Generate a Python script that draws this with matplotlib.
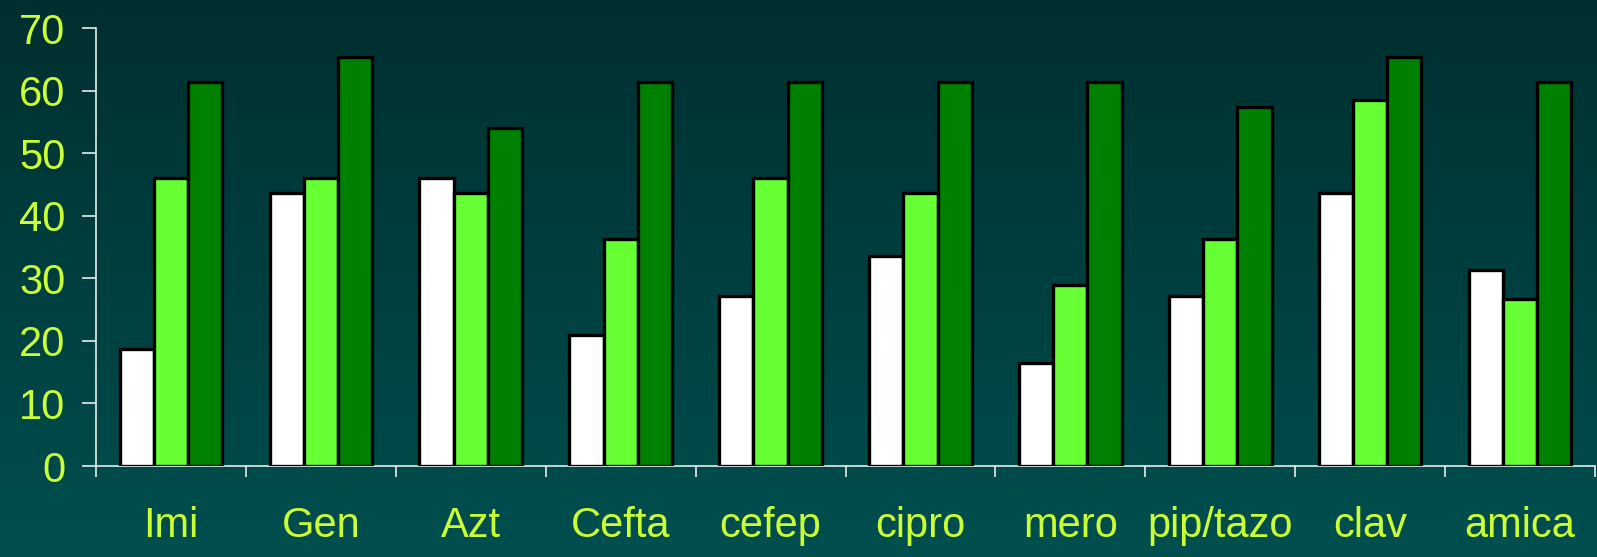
import numpy as np
import matplotlib
matplotlib.use("Agg")
import matplotlib.pyplot as plt
from matplotlib.colors import LinearSegmentedColormap

categories = ["Imi", "Gen", "Azt", "Cefta", "cefep", "cipro", "mero", "pip/tazo", "clav", "amica"]
series_white = [18.7, 43.7, 46.0, 20.9, 27.2, 33.6, 16.5, 27.2, 43.7, 31.3]
series_light = [46.0, 46.0, 43.7, 36.3, 46.0, 43.7, 29.0, 36.3, 58.5, 26.7]
series_dark = [61.4, 65.4, 54.0, 61.4, 61.4, 61.4, 61.4, 57.4, 65.4, 61.4]
y_ticks = [0, 10, 20, 30, 40, 50, 60, 70]

W, H = 1597, 557
fig = plt.figure(figsize=(W / 100, H / 100), dpi=100)

# vertical teal gradient behind everything
bg = fig.add_axes([0, 0, 1, 1], zorder=0)
grad = LinearSegmentedColormap.from_list("teal", ["#002f2f", "#004f4f"])
bg.imshow(np.linspace(0, 1, 256).reshape(-1, 1), aspect="auto", cmap=grad,
          extent=[0, 1, 0, 1], origin="upper")
bg.set_axis_off()

left, right = 96 / W, 1595 / W
bottom, top = (H - 466) / H, (H - 28) / H
ax = fig.add_axes([left, bottom, right - left, top - bottom], zorder=1)
ax.patch.set_alpha(0)

x = np.arange(len(categories))
bw = 0.228
label_color = "#ccff33"
for off, vals, col in [(-bw, series_white, "#ffffff"),
                       (0.0, series_light, "#66ff33"),
                       (bw, series_dark, "#008000")]:
    ax.bar(x + off, vals, width=bw, color=col, edgecolor="black",
           linewidth=2.4, zorder=3)

ax.set_xlim(-0.5, len(categories) - 0.5)
ax.set_ylim(0, 70)

for s in ["top", "right"]:
    ax.spines[s].set_visible(False)
for s in ["left", "bottom"]:
    ax.spines[s].set_color("#e6eeee")
    ax.spines[s].set_linewidth(1.2)

ax.set_yticks(y_ticks)
ax.set_yticklabels([str(v) for v in y_ticks])
ax.tick_params(axis="y", direction="out", length=10, width=1.2, color="#e6eeee",
               labelcolor=label_color, labelsize=30, pad=12)
for lab in ax.get_yticklabels():
    lab.set_fontfamily("Liberation Sans")

# category boundaries carry the tick marks, centres carry the names
ax.set_xticks(np.arange(len(categories) + 1) - 0.5)
ax.set_xticklabels([])
ax.tick_params(axis="x", which="major", direction="out", length=8, width=1.2,
               color="#e6eeee")
ax.set_xticks(x, minor=True)
ax.set_xticklabels(categories, minor=True)
ax.tick_params(axis="x", which="minor", length=0, labelcolor=label_color,
               labelsize=30, pad=29)
for lab in ax.get_xticklabels(minor=True):
    lab.set_fontfamily("Liberation Sans")

fig.savefig("out.png", dpi=100)
